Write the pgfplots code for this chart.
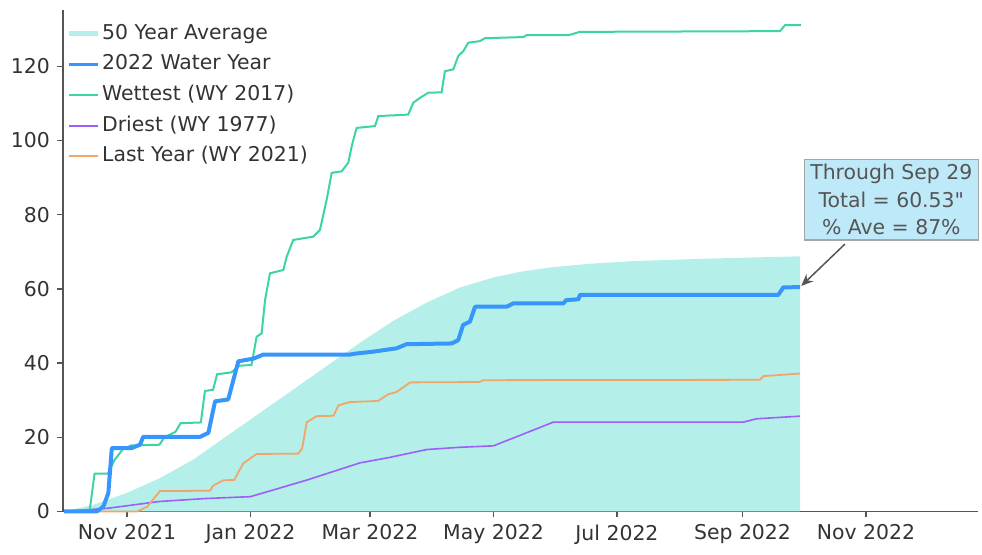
\documentclass[border=0pt]{standalone}
\usepackage{pgfplots}
\pgfplotsset{compat=1.18}
\usepackage{fontspec}
\setmainfont{DejaVu Sans}
\newfontfamily\plainfont{DejaVu Sans}[Mapping=]
\usetikzlibrary{arrows.meta}
\definecolor{avgc}{RGB}{180,240,233}
\definecolor{wyblue}{RGB}{55,150,252}
\definecolor{wetc}{RGB}{60,212,160}
\definecolor{dryc}{RGB}{155,95,250}
\definecolor{lastc}{RGB}{240,165,105}
\definecolor{axc}{RGB}{85,85,85}
\definecolor{txtc}{RGB}{51,51,51}
\definecolor{boxc}{RGB}{190,233,248}
\begin{document}
\begin{tikzpicture}
\begin{axis}[
  scale only axis,
  width=457.5pt, height=250.75pt,
  xmin=-0.6, xmax=451.3, ymin=0, ymax=135.2,
  axis lines=left,
  axis line style={-, draw=axc, line width=0.75pt},
  tick style={draw=axc, line width=0.75pt},
  tick align=outside,
  major tick length=3pt,
  xtick={31,92,151,212,273,335,396},
  xticklabels={Nov 2021,Jan 2022,Mar 2022,May 2022,Jul 2022,Sep 2022,Nov 2022},
  ytick={0,20,40,60,80,100,120},
  /pgf/number format/assume math mode=true,
  tick label style={font=\fontsize{10.2}{12}\selectfont, text=txtc},
  clip=false,
  legend cell align=left,
  legend style={draw=none, fill=none, at={(0.003,0.984)}, anchor=north west,
    inner sep=0pt, row sep=0pt,
    font=\fontsize{10.2}{12}\selectfont, text=txtc,
    nodes={inner xsep=1pt, inner ysep=2.4pt, text height=8pt, text depth=2.5pt}},
  legend image code/.code={\draw[#1] (0pt,0pt) -- (14.5pt,0pt);},
]
% 50 year average
\addplot[fill=avgc, draw=none, forget plot] coordinates {
(0,0) (14.4,1.8) (30.9,5) (47.3,9) (63.8,14) (80.2,20.3) (96.7,26.6) (113.2,32.9)
(129.6,39.2) (146.1,45.5) (162.5,51.4) (179,56.3) (195.5,60.4) (212,63.1) (225,64.6)
(240,65.8) (260,66.8) (281,67.5) (320,68.2) (363.5,68.8)
} \closedcycle;
% Driest WY 1977
\addplot[dryc, line width=0.8pt, forget plot] coordinates {
(0,0) (22,0.9) (47,2.7) (70,3.5) (92,4) (120,8.5) (146,13.1) (160,14.5) (179,16.7)
(195,17.3) (212,17.7) (225,20.5) (241.6,24.1) (335.4,24.1) (342,25) (363.4,25.7)
};
% Last year WY 2021
\addplot[lastc, line width=0.9pt, forget plot] coordinates {
(0,0) (36,0) (41,1.3) (47.3,5.5) (72,5.6) (73.6,7) (78.6,8.4) (84,8.5) (86,10.6)
(88.5,13) (95,15.5) (115.6,15.6) (117.5,17) (119.8,24.1) (124.7,25.7) (133,25.8)
(135.4,28.6) (141,29.5) (155,29.8) (160,31.6) (164,32.2) (168.3,33.8) (170.8,34.8)
(205,34.9) (207,35.4) (343.6,35.5) (345.3,36.5) (353.5,36.8) (363.4,37.2)
};
% Wettest WY 2017
\addplot[wetc, line width=1pt, forget plot] coordinates {
(0,0) (12.5,0) (15,10.2) (21.5,10.2) (25,14) (29,16.8) (33,17.8) (47,18) (49.5,20)
(55,21.5) (57.5,23.8) (67.5,24) (69.5,32.5) (73.5,32.8) (75.5,37) (82.5,37.5)
(86.5,39.3) (92.5,39.5) (94,44) (95,47.1) (97.5,48) (99.2,57) (101.6,64.2) (108.2,65.1)
(109.9,68.7) (113.1,73.2) (123,74.1) (126.3,75.9) (129.6,84) (132.1,91.3) (137,91.7)
(140.3,94) (142,98.5) (144.4,103.4) (153.5,103.9) (155.1,106.6) (169.9,107) (172.4,110.2)
(175.7,111.5) (179.8,112.9) (186.4,113) (188,118.7) (192.2,119.2) (194.6,122.8)
(197.1,124.1) (199.6,126.4) (205.3,126.8) (207.8,127.6) (226.7,127.9) (228.4,128.4)
(249,128.4) (254.7,129.3) (353.5,129.5) (356,131.1) (364,131.1)
};
% 2022 Water Year
\addplot[wyblue, line width=2pt, line join=round, forget plot] coordinates {
(0,0) (16,0) (19.3,1.3) (21.8,5) (23.5,17.1) (33.3,17.1) (37.4,18) (39,20.1) (67,20.1)
(71.2,21.2) (74.5,29.7) (81,30.2) (86,40.5) (93.4,41.2) (98.3,42.3) (141,42.3)
(144.4,42.6) (152.7,43.1) (164.2,44) (169,45.1) (191.4,45.3) (194.6,46.2) (197,50.3)
(200.4,51.2) (202.9,55.2) (218.5,55.2) (221.8,56.1) (246.5,56.1) (248,57) (254,57.2)
(254.7,58.4) (352.7,58.4) (355.1,60.4) (363.4,60.5)
};
\addlegendimage{avgc, line width=2.5pt}
\addlegendentry{50 Year Average}
\addlegendimage{wyblue, line width=1.6pt}
\addlegendentry{2022 Water Year}
\addlegendimage{wetc, line width=1pt}
\addlegendentry{Wettest (WY 2017)}
\addlegendimage{dryc, line width=1pt}
\addlegendentry{Driest (WY 1977)}
\addlegendimage{lastc, line width=1pt}
\addlegendentry{Last Year (WY 2021)}
% annotation
\draw[-{Stealth[length=6pt,width=5pt]}, draw=axc, fill=axc, line width=0.75pt]
  (axis cs:385.6,72.1) -- (axis cs:364,60.8);
\node[fill=boxc, draw=gray!70, line width=0.6pt, align=center, text=axc,
  inner xsep=3pt, inner ysep=2.5pt,
  font=\fontsize{10.2}{13.75}\selectfont] at (axis cs:408.5,84.1)
  {Through Sep 29\\Total = 60.53{\plainfont\symbol{34}}\\ \% Ave = 87\%};
\end{axis}
\pgfresetboundingbox
\path (-31.5pt,-21.75pt) rectangle (459.5pt,255.75pt);
\end{tikzpicture}
\end{document}
